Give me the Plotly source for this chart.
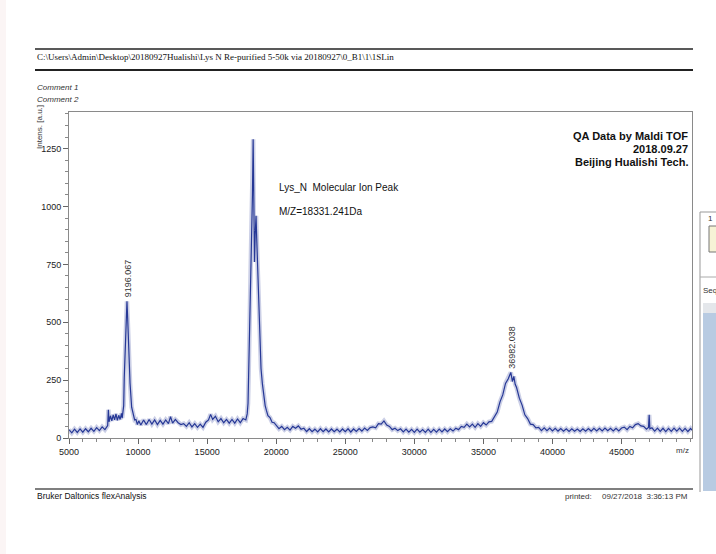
import plotly.graph_objects as go

# ---- spectrum data: m/z and intensity (a.u.) ----
mz = [
    5000, 5200, 5400, 5600, 5800, 6000, 6200, 6400, 6600, 6800, 7000, 7200, 7400, 7600, 7800,
    7850, 7900, 8000, 8100, 8200, 8300, 8400, 8500, 8600, 8700, 8800, 8850, 8900, 8960,
    9000, 9053, 9125, 9196.067, 9245, 9318, 9420, 9535, 9650, 9750, 9850, 9950,
    10050, 10200, 10400, 10600, 10800, 11000, 11200, 11400, 11600, 11800, 12000, 12200, 12350, 12500, 12700,
    12900, 13100, 13300, 13500, 13700, 13900, 14100, 14300, 14500, 14700, 14900, 15100, 15250, 15400, 15600,
    15800, 16000, 16200, 16400, 16600, 16800, 17000, 17200, 17400, 17600, 17800, 17900, 17960,
    18000, 18050, 18100, 18160, 18220, 18280, 18331.241, 18380, 18430, 18480, 18540, 18590, 18640, 18700,
    18760, 18820, 18900, 19000, 19100, 19200, 19290, 19400, 19550, 19700, 19850,
    20000, 20200, 20400, 20600, 20800, 21000, 21200, 21400, 21600, 21800,
    22000, 22200, 22400, 22600, 22800, 23000, 23200, 23400, 23600, 23800, 24000, 24200, 24400,
    24600, 24800, 25000, 25200, 25400, 25600, 25800, 26000, 26200, 26400, 26600, 26800,
    27000, 27200, 27400, 27600, 27800, 28000, 28200, 28400, 28600, 28800,
    29000, 29200, 29400, 29600, 29800, 30000, 30200, 30400, 30600, 30800,
    31000, 31200, 31400, 31600, 31800, 32000, 32200, 32400, 32600, 32800,
    33000, 33200, 33400, 33600, 33800, 34000, 34200, 34400, 34600, 34800, 35000, 35200, 35400, 35600, 35800,
    36000, 36200, 36400, 36600, 36800, 36982.038, 37100, 37200, 37300, 37400, 37600, 37800, 38000,
    38200, 38400, 38600, 38800,
    39000, 39200, 39400, 39600, 39800, 40000, 40200, 40400, 40600, 40800, 41000, 41200, 41400, 41600,
    41800, 42000, 42200, 42400, 42600, 42800, 43000, 43200, 43400, 43600, 43800, 44000, 44200, 44400,
    44600, 44800, 45000,
    45200, 45400, 45600, 45800, 46000, 46200, 46400, 46600, 46800, 46950, 47000, 47050,
    47200, 47400, 47600, 47800, 48000, 48200, 48400, 48600, 48800, 49000, 49200, 49400, 49600, 49800,
    50000, 50100,
]
intensity = [
    36, 22, 38, 24, 39, 25, 40, 27, 42, 29, 45, 32, 48, 36, 54,
    122, 70, 96, 74, 100, 78, 104, 76, 98, 80, 106, 86, 110, 140,
    260, 378, 521, 590, 521, 378, 235, 133, 104, 78, 80, 58,
    74, 56, 78, 58, 80, 60, 78, 58, 76, 60, 78, 62, 92, 64, 80,
    66, 58, 62, 50, 66, 48, 62, 46, 60, 46, 68, 78, 102, 80, 94,
    70, 84, 66, 80, 64, 80, 64, 82, 66, 84, 78, 104, 150,
    260, 420, 560, 690, 820, 1050, 1290, 860, 760, 880, 960, 860, 760, 620,
    500, 400, 300, 234, 175, 140, 119, 96, 88, 68, 66,
    56, 40, 50, 36, 46, 34, 50, 42, 52, 38,
    42, 28, 40, 27, 38, 26, 40, 27, 39, 26, 39, 27, 38,
    26, 39, 27, 40, 26, 39, 28, 41, 30, 43, 33, 45,
    48, 44, 62, 60, 74, 56, 50, 36, 42, 32,
    40, 26, 38, 25, 37, 24, 38, 25, 36, 24,
    38, 24, 37, 25, 38, 26, 39, 27, 40, 30,
    42, 36, 50, 46, 60, 48, 60, 46, 62, 50, 66, 56, 70, 72, 92,
    112, 156, 186, 236, 256, 283, 244, 266, 232, 218, 172, 142, 100,
    84, 60, 58, 44,
    46, 32, 44, 32, 43, 31, 42, 30, 41, 29, 40, 28, 40, 29,
    39, 28, 40, 29, 41, 30, 42, 31, 42, 31, 43, 32, 42, 31,
    42, 31, 43,
    47, 36, 50, 44, 58, 62, 52, 50, 38, 46, 100, 40,
    44, 30, 43, 29, 42, 28, 42, 29, 43, 30, 43, 29, 42, 28,
    41, 34,
]
assert len(mz) == len(intensity)

# peaks annotated with their m/z on the trace
labeled_peaks = [9196.067, 36982.038]
molecular_ion = 18331.241

x_ticks = [5000, 10000, 15000, 20000, 25000, 30000, 35000, 40000, 45000]
y_ticks = [0, 250, 500, 750, 1000, 1250]

# ---- page geometry (pixels) ----
W, H = 716, 554
L, R, T, B = 69, 24, 112, 116
PW, PH = W - L - R, H - T - B


def px(x):
    return (x - L) / PW


def py(y):
    return (H - B - y) / PH


SANS = "Liberation Sans, Arial, sans-serif"
SERIF = "Liberation Serif, Times New Roman, serif"

fig = go.Figure()

# soft halo under the trace, then the trace itself
fig.add_trace(go.Scatter(
    x=mz, y=intensity, mode="lines",
    line=dict(color="rgba(140,148,200,0.45)", width=4.5),
    hoverinfo="skip", showlegend=False,
))
fig.add_trace(go.Scatter(
    x=mz, y=intensity, mode="lines",
    line=dict(color="rgb(38,56,150)", width=1.2),
    showlegend=False,
))

annotations = []


def text(x, y, s, size=9, xanchor="left", yanchor="middle", color="#222",
         family=SANS, **kw):
    annotations.append(dict(
        x=px(x), y=py(y), xref="paper", yref="paper", text=s, showarrow=False,
        xanchor=xanchor, yanchor=yanchor,
        font=dict(size=size, color=color, family=family), **kw))


# peak labels, rotated, sitting on top of each apex
for p in labeled_peaks:
    annotations.append(dict(
        x=p, y=intensity[mz.index(p)], xref="x", yref="y",
        text=f"{p:.3f}", showarrow=False, textangle=-90,
        xanchor="center", yanchor="bottom", yshift=2, xshift=1,
        font=dict(size=9, color="#333", family=SANS)))

# header / footer of the report page
text(35, 57, r"C:\Users\Admin\Desktop\20180927Hualishi\Lys N Re-purified 5-50k via 20180927\0_B1\1\1SLin",
     size=9, family=SERIF, color="#111")
text(35, 87, "<i>Comment 1</i>", size=8, color="#333")
text(35, 99, "<i>Comment 2</i>", size=8, color="#333")
text(40, 127, "Intens. [a.u.]", size=8, xanchor="center", color="#333", textangle=-90)
text(691, 450, "m/z", size=8, xanchor="right", color="#333")
text(35, 496, "Bruker Daltonics flexAnalysis", size=8.5, color="#111")
text(563, 496, "printed:", size=8, color="#333")
text(690, 496, "09/27/2018  3:36:13 PM", size=8, xanchor="right", color="#333")

# in-plot notes
text(690, 136, "<b>QA Data by Maldi TOF</b>", size=11, xanchor="right", color="#111")
text(690, 149, "<b>2018.09.27</b>", size=11, xanchor="right", color="#111")
text(690, 162, "<b>Beijing Hualishi Tech.</b>", size=11, xanchor="right", color="#111")
text(277, 187, "Lys_N  Molecular Ion Peak", size=10, color="#111")
text(277, 211, f"M/Z={molecular_ion:.3f}Da", size=10, color="#111")

# neighbouring window edge on the right
text(710, 218, "1", size=8, xanchor="center", color="#333")
text(701, 290, "Seq", size=8, color="#333")

shapes = []


def hline(x0, x1, y, color, width):
    shapes.append(dict(type="line", xref="paper", yref="paper",
                       x0=px(x0), x1=px(x1), y0=py(y), y1=py(y),
                       line=dict(color=color, width=width)))


def vline(x, y0, y1, color, width):
    shapes.append(dict(type="line", xref="paper", yref="paper",
                       x0=px(x), x1=px(x), y0=py(y0), y1=py(y1),
                       line=dict(color=color, width=width)))


def rect(x0, y0, x1, y1, fill, border=None):
    shapes.append(dict(type="rect", xref="paper", yref="paper",
                       x0=px(x0), x1=px(x1), y0=py(y0), y1=py(y1),
                       fillcolor=fill, layer="below",
                       line=dict(color=border or fill, width=1 if border else 0)))


hline(35, 693, 49, "#222", 1.5)
hline(35, 693, 70, "#222", 2)
hline(35, 693, 489, "#555", 1.5)

rect(0, 0, 6, 554, "#fbf5f5")
vline(700, 212, 492, "#999", 1)
hline(700, 716, 212, "#999", 1)
rect(709, 226, 718, 252, "#f6f3d6", "#777")
hline(700, 716, 277, "#aaa", 1)
rect(703, 303, 718, 313, "#e4e7eb")
rect(703, 313, 718, 491, "#b8cbe2")

axis_common = dict(
    showgrid=False, zeroline=False, showline=True, linecolor="#8a8a8a", linewidth=1,
    mirror=True, ticks="outside", ticklen=5, tickwidth=1, tickcolor="#666",
    tickfont=dict(size=9, color="#222", family=SANS),
)

fig.update_layout(
    width=W, height=H,
    margin=dict(l=L, r=R, t=T, b=B, pad=0),
    paper_bgcolor="white", plot_bgcolor="white",
    xaxis=dict(range=[5000, 50100], tickmode="array", tickvals=x_ticks,
               ticktext=[str(v) for v in x_ticks],
               minor=dict(dtick=1000, tick0=5000, ticks="outside", ticklen=3,
                          tickcolor="#888"),
               **axis_common),
    yaxis=dict(range=[0, 1408], tickmode="array", tickvals=y_ticks,
               ticktext=[str(v) for v in y_ticks],
               minor=dict(dtick=50, tick0=0, ticks="outside", ticklen=3,
                          tickcolor="#888"),
               **axis_common),
    annotations=annotations,
    shapes=shapes,
    font=dict(family=SANS),
)

fig.write_html("out.html")
